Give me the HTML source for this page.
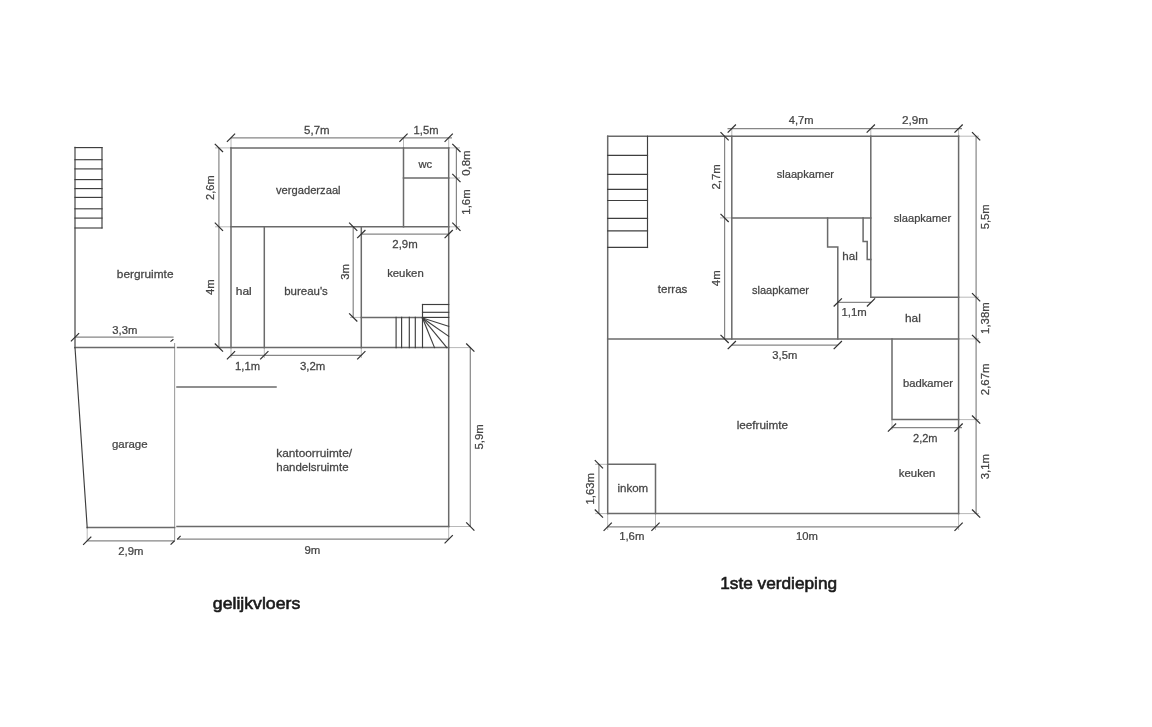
<!DOCTYPE html><html><head><meta charset="utf-8"><title>plattegrond</title><style>html,body{margin:0;padding:0;background:#fff;width:1152px;height:727px;overflow:hidden}svg{display:block}text{font-family:"Liberation Sans",sans-serif}</style></head><body>
<svg width="1152" height="727" viewBox="0 0 1152 727">
<g fill="none" stroke="#b8b8b8" stroke-width="1"><line x1="87.2" y1="527.4" x2="87.2" y2="540.8"/><line x1="448.7" y1="526.5" x2="448.7" y2="539.2"/><line x1="448.7" y1="347.6" x2="470.3" y2="347.6"/><line x1="448.7" y1="526.5" x2="470.3" y2="526.5"/><line x1="231" y1="137.8" x2="231" y2="147.9"/><line x1="403.5" y1="137.8" x2="403.5" y2="147.9"/><line x1="448.7" y1="137.8" x2="448.7" y2="147.9"/><line x1="448.7" y1="147.9" x2="460" y2="147.9"/><line x1="448.7" y1="178" x2="460" y2="178"/><line x1="448.7" y1="226.8" x2="460" y2="226.8"/><line x1="215" y1="147.9" x2="231" y2="147.9"/><line x1="215" y1="226.8" x2="231" y2="226.8"/><line x1="215" y1="347.6" x2="231" y2="347.6"/><line x1="350" y1="317.4" x2="361.3" y2="317.4"/><line x1="231" y1="347.6" x2="231" y2="358"/><line x1="264.3" y1="347.6" x2="264.3" y2="358"/><line x1="361.3" y1="347.6" x2="361.3" y2="358"/><line x1="731.8" y1="128.6" x2="731.8" y2="136.2"/><line x1="870.8" y1="128.6" x2="870.8" y2="136.2"/><line x1="958.6" y1="128.6" x2="958.6" y2="136.2"/><line x1="720" y1="217.9" x2="731.8" y2="217.9"/><line x1="720" y1="136.2" x2="731.8" y2="136.2"/><line x1="958.6" y1="136.2" x2="979" y2="136.2"/><line x1="958.6" y1="297.2" x2="979" y2="297.2"/><line x1="958.6" y1="338.9" x2="979" y2="338.9"/><line x1="958.6" y1="419.6" x2="979" y2="419.6"/><line x1="958.6" y1="513.6" x2="979" y2="513.6"/><line x1="892" y1="419.6" x2="892" y2="430"/><line x1="595" y1="464.3" x2="607.7" y2="464.3"/><line x1="595" y1="513.6" x2="607.7" y2="513.6"/><line x1="607.7" y1="513.6" x2="607.7" y2="530"/><line x1="655.5" y1="513.6" x2="655.5" y2="530"/><line x1="958.6" y1="513.6" x2="958.6" y2="530"/></g>
<g fill="none" stroke="#a0a0a0" stroke-width="1.1"><line x1="174.6" y1="342.9" x2="174.6" y2="541"/></g>
<g fill="none" stroke="#868686" stroke-width="1.2"><line x1="75" y1="337.2" x2="173.6" y2="337.2"/><line x1="87.2" y1="540.8" x2="174.6" y2="540.8"/><line x1="177" y1="539.2" x2="448.7" y2="539.2"/><line x1="470.3" y1="347.6" x2="470.3" y2="526.5"/><line x1="231" y1="137.8" x2="452" y2="137.8"/><line x1="456.4" y1="147.9" x2="456.4" y2="230"/><line x1="218.9" y1="147.9" x2="218.9" y2="347.6"/><line x1="353.2" y1="226.8" x2="353.2" y2="317.4"/><line x1="361.3" y1="234.1" x2="448.7" y2="234.1"/><line x1="231" y1="355.3" x2="361.3" y2="355.3"/><line x1="727.5" y1="128.6" x2="962" y2="128.6"/><line x1="724.6" y1="136.2" x2="724.6" y2="338.9"/><line x1="731.8" y1="345.1" x2="837.8" y2="345.1"/><line x1="837.8" y1="302.4" x2="871" y2="302.4"/><line x1="976.1" y1="136.2" x2="976.1" y2="513.6"/><line x1="892" y1="427.6" x2="962" y2="427.6"/><line x1="598.9" y1="464.3" x2="598.9" y2="513.6"/><line x1="607.7" y1="526.8" x2="958.6" y2="526.8"/></g>
<g fill="none" stroke="#6a6a6a" stroke-width="1.5" stroke-linecap="square"><polyline points="75,147.6 75,347.6"/><polyline points="75,347.6 174.3,347.6"/><polyline points="87.2,527.6 174.6,527.6"/><polyline points="177.5,347.6 448.7,347.6"/><polyline points="177,526.5 448.7,526.5"/><polyline points="448.7,147.9 448.7,526.5"/><polyline points="177,387 276,387"/><polyline points="231,147.9 448.7,147.9"/><polyline points="231,147.9 231,347.6"/><polyline points="231,226.8 448.7,226.8"/><polyline points="403.5,147.9 403.5,226.8"/><polyline points="403.5,178 448.7,178"/><polyline points="264.3,226.8 264.3,347.6"/><polyline points="361.3,226.8 361.3,347.6"/><polyline points="361.3,317.4 422.5,317.4"/><polyline points="607.7,136.2 958.6,136.2"/><polyline points="607.7,136.2 607.7,513.6"/><polyline points="958.6,136.2 958.6,513.6"/><polyline points="607.7,513.6 958.6,513.6"/><polyline points="731.8,136.2 731.8,338.9"/><polyline points="870.8,136.2 870.8,297.2"/><polyline points="731.8,217.9 870.8,217.9"/><polyline points="607.7,338.9 958.6,338.9"/><polyline points="827.6,217.9 827.6,246.9 837.8,246.9 837.8,338.9"/><polyline points="863.1,217.9 863.1,241.4 867.2,241.4 867.2,259.6 870.8,259.6"/><polyline points="870.8,297.2 958.6,297.2"/><polyline points="892,338.9 892,419.6 958.6,419.6"/><polyline points="607.7,464.3 655.5,464.3 655.5,513.6"/></g>
<g fill="none" stroke="#3e3e3e" stroke-width="1.15" stroke-linecap="square"><polyline points="75,147.6 102,147.6"/><polyline points="75,159.7 102,159.7"/><polyline points="75,168.9 102,168.9"/><polyline points="75,179.6 102,179.6"/><polyline points="75,188.6 102,188.6"/><polyline points="75,197.4 102,197.4"/><polyline points="75,208.8 102,208.8"/><polyline points="75,218.1 102,218.1"/><polyline points="75,228 102,228"/><polyline points="102,147.6 102,228"/><polyline points="75,347.6 87.2,527.6"/><polyline points="396.1,317.4 396.1,347.6"/><polyline points="401.6,317.4 401.6,347.6"/><polyline points="409.3,317.4 409.3,347.6"/><polyline points="415.3,317.4 415.3,347.6"/><polyline points="422.5,317.4 422.5,347.6"/><polyline points="422.5,304.5 448.7,304.5"/><polyline points="422.5,312.3 448.7,312.3"/><polyline points="422.5,317.4 448.7,317.4"/><polyline points="422.5,304.5 422.5,317.4"/><polyline points="422.5,318 448.7,326.4"/><polyline points="422.5,318 448.7,336.3"/><polyline points="422.5,318 446.9,347.6"/><polyline points="422.5,318 434.5,347.6"/><polyline points="647.5,136.2 647.5,247.5"/><polyline points="607.7,155.3 647.5,155.3"/><polyline points="607.7,174.3 647.5,174.3"/><polyline points="607.7,189.3 647.5,189.3"/><polyline points="607.7,200.5 647.5,200.5"/><polyline points="607.7,218.4 647.5,218.4"/><polyline points="607.7,230.8 647.5,230.8"/><polyline points="607.7,247.4 647.5,247.4"/></g>
<g fill="none" stroke="#2e2e2e" stroke-width="1.2"><line x1="70.9" y1="341.3" x2="79.1" y2="333.1"/><line x1="170.5" y1="341.6" x2="173.4" y2="339.2"/><line x1="83.1" y1="544.9" x2="91.3" y2="536.7"/><line x1="170.6" y1="544.6" x2="174.6" y2="540.7"/><line x1="444.6" y1="543.3" x2="452.8" y2="535.1"/><line x1="177.3" y1="539.4" x2="180.6" y2="535.9"/><line x1="466.2" y1="343.5" x2="474.4" y2="351.7"/><line x1="466.2" y1="522.4" x2="474.4" y2="530.6"/><line x1="226.9" y1="141.9" x2="235.1" y2="133.7"/><line x1="399.4" y1="141.9" x2="407.6" y2="133.7"/><line x1="444.6" y1="141.9" x2="452.8" y2="133.7"/><line x1="452.3" y1="143.8" x2="460.5" y2="152"/><line x1="452.3" y1="173.9" x2="460.5" y2="182.1"/><line x1="452.3" y1="222.7" x2="460.5" y2="230.9"/><line x1="214.8" y1="143.8" x2="223" y2="152"/><line x1="214.8" y1="222.7" x2="223" y2="230.9"/><line x1="214.8" y1="343.5" x2="223" y2="351.7"/><line x1="349.1" y1="222.7" x2="357.3" y2="230.9"/><line x1="349.1" y1="313.3" x2="357.3" y2="321.5"/><line x1="357.2" y1="238.2" x2="365.4" y2="230"/><line x1="444.6" y1="238.2" x2="452.8" y2="230"/><line x1="226.9" y1="359.4" x2="235.1" y2="351.2"/><line x1="260.2" y1="359.4" x2="268.4" y2="351.2"/><line x1="357.2" y1="359.4" x2="365.4" y2="351.2"/><line x1="727.7" y1="132.7" x2="735.9" y2="124.5"/><line x1="866.7" y1="132.7" x2="874.9" y2="124.5"/><line x1="954.5" y1="132.7" x2="962.7" y2="124.5"/><line x1="720.5" y1="132.1" x2="728.7" y2="140.3"/><line x1="720.5" y1="213.8" x2="728.7" y2="222"/><line x1="720.5" y1="334.8" x2="728.7" y2="343"/><line x1="727.7" y1="349.2" x2="735.9" y2="341"/><line x1="833.7" y1="349.2" x2="841.9" y2="341"/><line x1="833.7" y1="306.5" x2="841.9" y2="298.3"/><line x1="866.9" y1="306.5" x2="875.1" y2="298.3"/><line x1="972" y1="132.1" x2="980.2" y2="140.3"/><line x1="972" y1="293.1" x2="980.2" y2="301.3"/><line x1="972" y1="334.8" x2="980.2" y2="343"/><line x1="972" y1="415.5" x2="980.2" y2="423.7"/><line x1="972" y1="509.5" x2="980.2" y2="517.7"/><line x1="887.9" y1="431.7" x2="896.1" y2="423.5"/><line x1="954.5" y1="431.7" x2="962.7" y2="423.5"/><line x1="594.8" y1="460.2" x2="603" y2="468.4"/><line x1="594.8" y1="509.5" x2="603" y2="517.7"/><line x1="603.6" y1="530.9" x2="611.8" y2="522.7"/><line x1="651.4" y1="530.9" x2="659.6" y2="522.7"/><line x1="954.5" y1="530.9" x2="962.7" y2="522.7"/></g>
<g fill="#444" stroke="#444" stroke-width="0.25" font-size="11.4" style="opacity:0.999">
<text transform="translate(112.31 333.5) scale(0.9897 1)">3,3m</text>
<text transform="translate(118.25 554.8) scale(0.9918 1)">2,9m</text>
<text transform="translate(116.82 278.3) scale(1.0404 1)">bergruimte</text>
<text transform="translate(111.9 448.4) scale(1.0058 1)">garage</text>
<text transform="translate(304.5 553.5) scale(1.0034 1)">9m</text>
<text transform="translate(483.4 449.62) rotate(-90) scale(1.0000 1)">5,9m</text>
<text transform="translate(276.22 456.9) scale(1.0417 1)">kantoorruimte/</text>
<text transform="translate(276.24 471.1) scale(1.0107 1)">handelsruimte</text>
<text transform="translate(304.1 133.5) scale(1.0062 1)">5,7m</text>
<text transform="translate(413.56 133.5) scale(0.9833 1)">1,5m</text>
<text transform="translate(469.6 175.82) rotate(-90) scale(1.0000 1)">0,8m</text>
<text transform="translate(469.6 214.65) rotate(-90) scale(1.0000 1)">1,6m</text>
<text transform="translate(214.4 199.88) rotate(-90) scale(0.9649 1)">2,6m</text>
<text transform="translate(214.4 295.05) rotate(-90) scale(1.0000 1)">4m</text>
<text transform="translate(348.6 279.77) rotate(-90) scale(1.0000 1)">3m</text>
<text transform="translate(392.3 247.7) scale(1.0021 1)">2,9m</text>
<text transform="translate(235.06 369.7) scale(0.9833 1)">1,1m</text>
<text transform="translate(299.9 369.7) scale(1.0021 1)">3,2m</text>
<text transform="translate(284.25 294.9) scale(1.0059 1)">bureau's</text>
<text transform="translate(235.71 294.9) scale(1.0545 1)">hal</text>
<text transform="translate(387.15 276.9) scale(0.9957 1)">keuken</text>
<text transform="translate(418.5 168.1) scale(0.9818 1)">wc</text>
<text transform="translate(276 193.8) scale(0.9808 1)">vergaderzaal</text>
<text transform="translate(788.76 124.25) scale(0.9796 1)">4,7m</text>
<text transform="translate(901.88 124.25) scale(1.0309 1)">2,9m</text>
<text transform="translate(720.3 189.62) rotate(-90) scale(1.0000 1)">2,7m</text>
<text transform="translate(720.3 286.15) rotate(-90) scale(1.0000 1)">4m</text>
<text transform="translate(772.31 359.1) scale(0.9856 1)">3,5m</text>
<text transform="translate(841.45 315.8) scale(0.9958 1)">1,1m</text>
<text transform="translate(989.2 229.29) rotate(-90) scale(0.9856 1)">5,5m</text>
<text transform="translate(989.2 333.88) rotate(-90) scale(1.0000 1)">1,38m</text>
<text transform="translate(989.2 395.15) rotate(-90) scale(1.0000 1)">2,67m</text>
<text transform="translate(989.2 479.32) rotate(-90) scale(1.0000 1)">3,1m</text>
<text transform="translate(913.02 441.5) scale(0.9691 1)">2,2m</text>
<text transform="translate(594.3 504.62) rotate(-90) scale(1.0000 1)">1,63m</text>
<text transform="translate(619.15 540.4) scale(0.9958 1)">1,6m</text>
<text transform="translate(796.06 540.2) scale(0.9880 1)">10m</text>
<text transform="translate(776.76 177.8) scale(0.9726 1)">slaapkamer</text>
<text transform="translate(893.76 221.9) scale(0.9744 1)">slaapkamer</text>
<text transform="translate(751.96 293.8) scale(0.9692 1)">slaapkamer</text>
<text transform="translate(842.34 260.1) scale(1.0182 1)">hal</text>
<text transform="translate(905.02 322.3) scale(1.0400 1)">hal</text>
<text transform="translate(657.8 292.5) scale(1.0157 1)">terras</text>
<text transform="translate(903.01 387.2) scale(0.9859 1)">badkamer</text>
<text transform="translate(736.63 429.1) scale(1.0297 1)">leefruimte</text>
<text transform="translate(898.85 477) scale(0.9957 1)">keuken</text>
<text transform="translate(617.44 492) scale(1.0138 1)">inkom</text>
</g><g fill="#1a1a1a" stroke="#1a1a1a" stroke-width="0.6" font-size="17" style="opacity:0.999">
<text transform="translate(212.82 608.6) scale(1.0405 1)">gelijkvloers</text>
<text transform="translate(720.23 588.9) scale(1.0142 1)">1ste verdieping</text>
</g></svg></body></html>
